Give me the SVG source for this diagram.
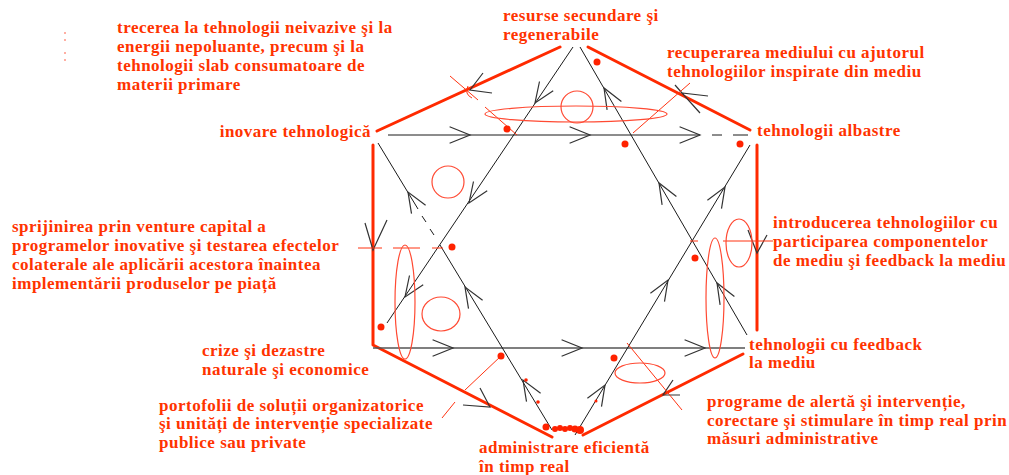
<svg xmlns="http://www.w3.org/2000/svg" width="1009" height="475" viewBox="0 0 1009 475">
<style>
.lbl{font-family:"Liberation Serif","Times New Roman",serif;font-weight:bold;font-size:17px;fill:#ff3300;letter-spacing:0.5px}
.hex{stroke:#ff2a00;stroke-width:3;fill:none;stroke-linecap:round;stroke-linejoin:round}
.ln{stroke:#1a1a1a;stroke-width:1;fill:none}
.ln2{stroke:#555;stroke-width:1.5;fill:none}
.ar{stroke:#333;stroke-width:1.2;fill:none}
.rl{stroke:#ff3311;stroke-width:1;fill:none}
.ring{stroke:#ff4a33;stroke-width:1.2;fill:none}
.dot{fill:#ff2200}
</style>
<rect width="1009" height="475" fill="#fff"/>
<g id="hexagon" class="hex">
<line x1="377" y1="131" x2="560" y2="47"/>
<line x1="588" y1="47" x2="750" y2="130"/>
<path d="M373 145 L373 345 L552 437"/>
<line x1="757" y1="145" x2="757" y2="330"/>
<line x1="583" y1="435" x2="743" y2="354"/>
</g>
<g id="connectors">
<path class="ln" d="M388 135 H700 M712 135 H722 M733 135 H748"/>
<path class="ln2" d="M373 348 H745"/>
<path class="ln" d="M573 47 L387 323"/>
<path class="ln" d="M580 47 L747 335"/>
<path class="ln" d="M378 143 L418 209 M422 216 L426 222 M430 229 L434 235 M440 245 L552 430"/>
<path class="ln" d="M750 145 L575 435"/>
<g class="ar">
<polyline points="449.6,126.8 470,135 449.6,143.2"/>
<polyline points="569.6,126.8 590,135 569.6,143.2"/>
<polyline points="679.6,126.8 700,135 679.6,143.2"/>
<polyline points="432.6,339.8 453,348 432.6,356.2"/>
<polyline points="561.6,339.8 582,348 561.6,356.2"/>
<polyline points="684.6,339.8 705,348 684.6,356.2"/>
<polyline points="553.2,90.7 535,103 539.5,81.5"/>
<polyline points="487.2,190.7 469,203 473.5,181.5"/>
<polyline points="423.2,284.7 405,297 409.5,275.5"/>
<polyline points="607.1,109.8 604,88 621.4,101.5"/>
<polyline points="662.1,204.8 659,183 676.4,196.5"/>
<polyline points="720.1,304.8 717,283 734.4,296.5"/>
<polyline points="411.5,213.7 408,192 425.6,205.2"/>
<polyline points="468.5,308.7 465,287 482.6,300.2"/>
<polyline points="526.5,401.7 523,380 540.6,393.2"/>
<polyline points="707.4,200.2 725,187 721.5,208.7"/>
<polyline points="650.4,293.2 668,280 664.5,301.7"/>
<polyline points="587.4,398.2 605,385 601.5,406.7"/>
<polyline points="365,223 373,250 387,220"/>
<polyline points="748,230 757,253 767,235"/>
<polyline points="483,73 470,90 492,93"/>
<polyline points="708,96 682,93 700,113"/>
<line x1="675" y1="85" x2="682" y2="93"/>
<polyline points="480,388 490,407 463,405"/>
<polyline points="673,380 663,395 680,395"/>
</g>
<g class="rl">
<path d="M450 76 L478 100 M468 86 q-4 8 4 12"/>
<path d="M485 107 L517 135"/>
<path d="M633 133 L690 83"/>
<path d="M358 248 H382 M393 248 H420 M432 248 H443"/>
<path d="M690 241 H698 M723 241 H773"/>
<path d="M501 356 L465 390 M455 402 L442 418"/>
<path d="M627 343 L682 410"/>
</g>
<g class="ring">
<ellipse cx="576" cy="114" rx="91" ry="8"/>
<circle cx="577" cy="107" r="16"/>
<circle cx="448" cy="182" r="16"/>
<ellipse cx="441" cy="314" rx="19" ry="17"/>
<ellipse cx="405" cy="302" rx="10" ry="57"/>
<ellipse cx="715" cy="298" rx="9" ry="60"/>
<ellipse cx="739" cy="243" rx="13" ry="24"/>
<ellipse cx="640" cy="373" rx="25" ry="10"/>
</g>
<g class="dot">
<circle cx="597" cy="62" r="3.5"/>
<circle cx="507" cy="129" r="3.5"/>
<circle cx="625" cy="144" r="3.5"/>
<circle cx="740" cy="144" r="3.5"/>
<circle cx="452" cy="247" r="3.5"/>
<circle cx="695" cy="258" r="3.5"/>
<circle cx="381" cy="327" r="3.5"/>
<circle cx="501" cy="356" r="3.5"/>
<circle cx="614" cy="358" r="3.5"/>
<circle cx="546" cy="427" r="3.5"/>
<circle cx="526" cy="380" r="1.8"/>
<circle cx="538" cy="402" r="1.8"/>
<circle cx="596" cy="401" r="1.5"/>
<circle cx="555" cy="429" r="3"/>
<circle cx="560" cy="428" r="3"/>
<circle cx="565" cy="429" r="3"/>
<circle cx="570" cy="428" r="3"/>
<circle cx="575" cy="429" r="3.5"/>
<circle cx="580" cy="430" r="4"/>
<circle cx="65" cy="33" r="0.7"/>
<circle cx="65" cy="40" r="0.7"/>
<circle cx="65" cy="53" r="0.7"/>
<circle cx="65" cy="60" r="0.7"/>
</g>
</g>
<g id="node-trecerea"><text class="lbl" x="117" y="33">trecerea la tehnologii neivazive şi la</text><text class="lbl" x="117" y="52">energii nepoluante, precum şi la</text><text class="lbl" x="117" y="71">tehnologii slab consumatoare de</text><text class="lbl" x="117" y="90">materii primare</text></g>
<g id="node-inovare"><text class="lbl" x="371" y="137" text-anchor="end">inovare tehnologică</text></g>
<g id="node-resurse"><text class="lbl" x="503" y="21">resurse secundare şi</text><text class="lbl" x="503" y="40">regenerabile</text></g>
<g id="node-recuperarea"><text class="lbl" x="667" y="58">recuperarea mediului cu ajutorul</text><text class="lbl" x="667" y="77">tehnologiilor inspirate din mediu</text></g>
<g id="node-albastre"><text class="lbl" x="757" y="136">tehnologii albastre</text></g>
<g id="node-sprijinirea"><text class="lbl" x="12" y="232">sprijinirea prin venture capital a</text><text class="lbl" x="12" y="251">programelor inovative şi testarea efectelor</text><text class="lbl" x="12" y="270">colaterale ale aplicării acestora înaintea</text><text class="lbl" x="12" y="289">implementării produselor pe piață</text></g>
<g id="node-introducerea"><text class="lbl" x="773" y="228">introducerea tehnologiilor cu</text><text class="lbl" x="773" y="247">participarea componentelor</text><text class="lbl" x="773" y="266">de mediu şi feedback la mediu</text></g>
<g id="node-crize"><text class="lbl" x="202" y="356">crize şi dezastre</text><text class="lbl" x="202" y="375">naturale şi economice</text></g>
<g id="node-feedback"><text class="lbl" x="749" y="350">tehnologii cu feedback</text><text class="lbl" x="749" y="368">la mediu</text></g>
<g id="node-portofolii"><text class="lbl" x="159" y="411">portofolii de soluții organizatorice</text><text class="lbl" x="159" y="429">şi unități de intervenție specializate</text><text class="lbl" x="159" y="448">publice sau private</text></g>
<g id="node-programe"><text class="lbl" x="707" y="407">programe de alertă şi intervenție,</text><text class="lbl" x="707" y="426">corectare şi stimulare în timp real prin</text><text class="lbl" x="707" y="444">măsuri administrative</text></g>
<g id="node-administrare"><text class="lbl" x="479" y="453">administrare eficientă</text><text class="lbl" x="479" y="472">în timp real</text></g>
</svg>
